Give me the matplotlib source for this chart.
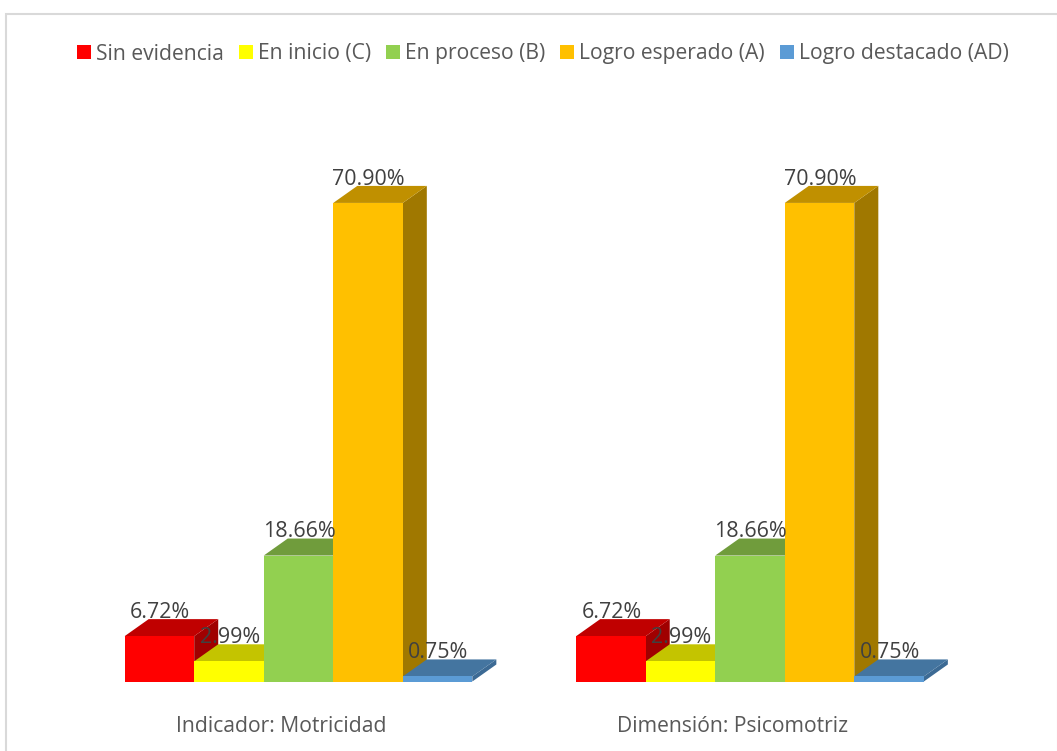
import matplotlib
matplotlib.use("Agg")
import matplotlib.pyplot as plt
from matplotlib.patches import Patch, Rectangle

plt.rcParams["font.family"] = ["Open Sans", "DejaVu Sans"]

# data
groups = ["Indicador: Motricidad", "Dimensión: Psicomotriz"]
levels = ["Sin evidencia", "En inicio (C)", "En proceso (B)", "Logro esperado (A)", "Logro destacado (AD)"]
values = [6.72, 2.99, 18.66, 70.90, 0.75]  # same in both groups
front_colors = ["#FF0000", "#FFFF00", "#92D050", "#FFC000", "#5B9BD5"]
top_colors = ["#C00000", "#C4C400", "#709C3C", "#C09000", "#4475A0"]
side_colors = ["#A00000", "#A4A400", "#5E8532", "#A07800", "#3C6A94"]

W, H = 1057, 751
fig = plt.figure(figsize=(W / 100, H / 100), dpi=100)

# outer chart frame
fig.add_artist(Rectangle((5.5 / W, -0.02), (W - 5) / W, 1 - 13.5 / H + 0.02, transform=fig.transFigure,
                         fill=False, edgecolor="#D9D9D9", linewidth=1.5))

# plot area, one x unit = distance between the two groups
left, right, base, top = 72.75, 975.75, 681.5, 100
ax = fig.add_axes([left / W, 1 - base / H, (right - left) / W, (base - top) / H])
ax.set_xlim(-0.5, 1.5)
ax.set_ylim(0, (base - top) / 6.75)
ax.axis("off")

bar_w = 0.154
dx = 0.0532  # fake 3d depth
dy = 2.52

for g in range(len(groups)):
    for i, v in enumerate(values):
        x0 = g + (i - 2.5) * bar_w
        x1 = x0 + bar_w
        # side, top, then front so the next bar hides this one's side
        ax.fill([x1, x1 + dx, x1 + dx, x1], [0, dy, v + dy, v], color=side_colors[i], lw=0, clip_on=False, zorder=2)
        ax.fill([x0, x0 + dx, x1 + dx, x1], [v, v + dy, v + dy, v], color=top_colors[i], lw=0, clip_on=False, zorder=2)
        ax.bar(x0, v, bar_w, align="edge", color=front_colors[i], lw=0, zorder=2)
        ax.annotate(f"{v:.2f}%", xy=(x0 + bar_w / 2, v), xytext=(0.5, 17), textcoords="offset points",
                    ha="center", va="center", fontsize=15.4, color="#404040", zorder=5)
    ax.annotate(groups[g], xy=(g, 0), xytext=(-12.5, -32.5), textcoords="offset points",
                ha="center", va="center", fontsize=15.2, color="#595959", annotation_clip=False)

handles = [Patch(facecolor=c, label=l) for c, l in zip(front_colors, levels)]
fig.legend(handles=handles, ncol=5, loc="center", bbox_to_anchor=(543 / W, 1 - 54 / H), frameon=False,
           fontsize=15.2, labelcolor="#595959", handlelength=0.65, handleheight=0.65,
           handletextpad=0.26, columnspacing=0.7, borderpad=0)

fig.savefig("out.png", dpi=100)
